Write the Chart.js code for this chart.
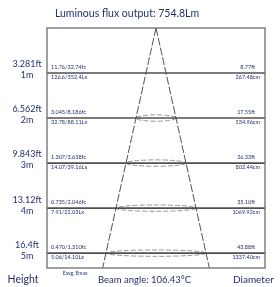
<!DOCTYPE html>
<html><head><meta charset="utf-8">
<script src="https://cdn.jsdelivr.net/npm/chart.js@4/dist/chart.umd.min.js"></script>
<style>html,body{margin:0;padding:0;background:#fff;overflow:hidden}#wrap{width:280px;height:287px;position:relative}</style>
</head><body><div id="wrap"><canvas id="c" width="280" height="287"></canvas></div>
<script>
const title = "Luminous flux output: 754.8Lm";
const heightsM = [1, 2, 3, 4, 5];
const heightLabelsFt = ["3.281ft", "6.562ft", "9.843ft", "13.12ft", "16.4ft"];
const heightLabelsM = ["1m", "2m", "3m", "4m", "5m"];
const illumFc = ["11.76/32.74fc", "3.045/8.186fc", "1.307/3.638fc", "0.735/2.046fc", "0.470/1.310fc"];
const illumLx = ["126.6/352.4Lx", "32.78/88.11Lx", "14.07/39.16Lx", "7.91/22.03Lx", "5.06/14.10Lx"];
const diameterM = [2.6748, 5.3496, 8.0244, 10.6992, 13.374];
const diameterFt = ["8.77ft", "17.55ft", "26.33ft", "35.10ft", "43.88ft"];
const diameterCm = ["267.48cm", "534.96cm", "802.44cm", "1069.92cm", "1337.40cm"];
const coneDepth = 5.33;
const coneRadiusAtDepth = 7.13;
const footerLabels = ["Height", "Eavg, Emax", "Beam angle: 106.43°C", "Diameter"];

const X_MAX = 14.57;
const navy = '#22306e';
const FONT = 'Lato, "Liberation Sans Narrow", sans-serif';

const leftCone = [{x: 0, y: 0}].concat(heightsM.map((h, i) => ({x: -diameterM[i] / 2, y: h}))).concat([{x: -coneRadiusAtDepth, y: coneDepth}]);
const rightCone = [{x: 0, y: 0}].concat(heightsM.map((h, i) => ({x: diameterM[i] / 2, y: h}))).concat([{x: coneRadiusAtDepth, y: coneDepth}]);
const levelSets = heightsM.map(h => ({
  data: [{x: -X_MAX, y: h}, {x: X_MAX, y: h}],
  showLine: true, borderColor: '#505050', borderWidth: 1.6, pointRadius: 0
}));

const decor = {
  id: 'decor',
  beforeDatasetsDraw(chart) {
    const {ctx, scales: {x, y}} = chart;
    ctx.save();
    ctx.strokeStyle = '#8a8a8a';
    ctx.lineWidth = 0.9;
    ctx.setLineDash([5, 2]);
    heightsM.forEach((h, i) => {
      if (i === 0) return;
      const cx = x.getPixelForValue(0), cy = y.getPixelForValue(h);
      const rx = x.getPixelForValue(diameterM[i] / 2) - cx;
      ctx.beginPath();
      ctx.ellipse(cx, cy, rx, 3.2, 0, 0, Math.PI * 2);
      ctx.stroke();
    });
    ctx.restore();
  },
  afterDatasetsDraw(chart) {
    const {ctx, chartArea: a, scales: {x, y}} = chart;
    ctx.save();
    ctx.strokeStyle = '#6e6e6e';
    ctx.lineWidth = 1.3;
    ctx.strokeRect(a.left, a.top, a.right - a.left, a.bottom - a.top);
    ctx.fillStyle = navy;
    ctx.textBaseline = 'middle';
    ctx.font = '10.5px ' + FONT;
    ctx.textAlign = 'center';
    ctx.fillText(title, 127, 14);
    heightsM.forEach((h, i) => {
      const py = y.getPixelForValue(h);
      ctx.font = '9px ' + FONT;
      ctx.textAlign = 'center';
      ctx.fillText(heightLabelsFt[i], 27, py - 8.5);
      ctx.fillText(heightLabelsM[i], 27, py + 2.5);
      ctx.font = '5.5px ' + FONT;
      ctx.textAlign = 'left';
      ctx.fillText(illumFc[i], a.left + 4, py - 6);
      ctx.fillText(illumLx[i], a.left + 4, py + 4.5);
      ctx.textAlign = 'right';
      ctx.fillText(diameterFt[i], a.right - 10, py - 6);
      ctx.fillText(diameterCm[i], a.right - 5, py + 4.5);
    });
    ctx.font = '10.5px ' + FONT;
    ctx.textAlign = 'center';
    ctx.fillText(footerLabels[0], 23, 280);
    ctx.font = '5px ' + FONT;
    ctx.fillText(footerLabels[1], 75, 273);
    ctx.font = '9.5px ' + FONT;
    ctx.textAlign = 'left';
    ctx.fillText(footerLabels[2], 98, 280);
    ctx.font = '10px ' + FONT;
    ctx.fillText(footerLabels[3], 233, 280);
    ctx.restore();
  }
};

new Chart(document.getElementById('c'), {
  type: 'scatter',
  data: {
    datasets: [
      {data: leftCone, showLine: true, borderColor: '#404040', borderWidth: 0.9, borderDash: [8, 2], pointRadius: 0},
      {data: rightCone, showLine: true, borderColor: '#404040', borderWidth: 0.9, borderDash: [8, 2], pointRadius: 0}
    ].concat(levelSets)
  },
  options: {
    responsive: false,
    animation: false,
    devicePixelRatio: 1,
    layout: {padding: {left: 47, right: 15, top: 28, bottom: 19}},
    plugins: {legend: {display: false}, tooltip: {enabled: false}},
    scales: {
      x: {type: 'linear', min: -X_MAX, max: X_MAX, display: false},
      y: {type: 'linear', min: 0, max: coneDepth, reverse: true, display: false}
    }
  },
  plugins: [decor]
});
</script></body></html>
